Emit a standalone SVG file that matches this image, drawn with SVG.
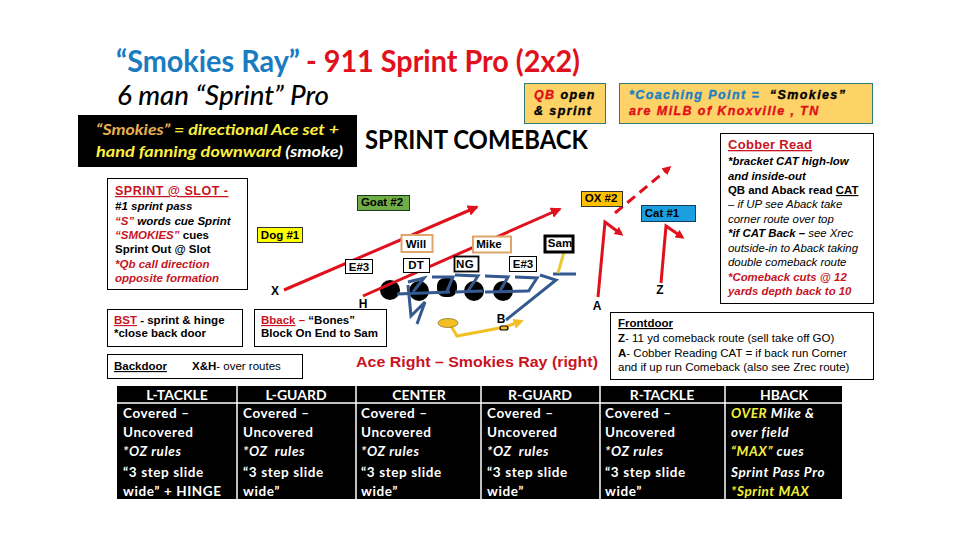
<svg xmlns="http://www.w3.org/2000/svg" width="960" height="540" viewBox="0 0 960 540">
<defs>
<marker id="ar" markerWidth="3.600" markerHeight="3.600" refX="5" refY="3" orient="auto" markerUnits="strokeWidth" viewBox="0 0 6 6"><path d="M0 0L6 3L0 6Z" fill="#e0101c"/></marker>
<marker id="ar2" markerWidth="3" markerHeight="3" refX="4" refY="3" orient="auto" markerUnits="strokeWidth" viewBox="0 0 6 6"><path d="M0 0L6 3L0 6Z" fill="#e0101c"/></marker>
<marker id="ay" markerWidth="3.500" markerHeight="3.500" refX="3" refY="3" orient="auto" markerUnits="strokeWidth" viewBox="0 0 6 6"><path d="M0 0L6 3L0 6Z" fill="#f4bf25"/></marker>
</defs>
<style>
text{font-family:"Liberation Sans",Arial,sans-serif;fill:#000;white-space:pre}
.c{font-family:Lato,"Open Sans","Liberation Sans",sans-serif}
.b{font-weight:700}.i{font-style:italic}.u{text-decoration:underline}
.r{fill:#c8151f}.rb{fill:#e00f1a}
.box{fill:#fff;stroke:#000;stroke-width:1}
.gold{fill:#fdd267;stroke:#2c7a7a;stroke-width:1}
.lb{font-size:12px;font-weight:700}
.nt{font-size:11.5px;font-weight:700;text-anchor:middle}
.s{font-size:11.5px}
.cb{font-size:11.4px}
.tb{font-size:13.5px;fill:#fff;font-weight:700;letter-spacing:.6px}
.th{font-size:14px;fill:#fff;font-weight:700;text-anchor:middle}
.rt{fill:none;stroke:#e0101c;stroke-width:3}
.bl{fill:none;stroke:#34598f;stroke-width:3}
.dot{fill:#000}
.gc{font-size:12.5px;font-weight:700;font-style:italic;letter-spacing:1.4px;stroke:currentColor;stroke-width:.35}
</style>
<rect width="960" height="540" fill="#fff"/>

<g id="title">
<text class="c b" x="116" y="72" font-size="30" style="fill:#1a7cc0" textLength="184" lengthAdjust="spacingAndGlyphs">“Smokies Ray”</text>
<text class="c b" x="306" y="72" font-size="30" style="fill:#e0101c" textLength="274" lengthAdjust="spacingAndGlyphs">- 911 Sprint Pro (2x2)</text>
<text class="c i" x="117" y="105" font-size="27" font-weight="500" textLength="212" lengthAdjust="spacingAndGlyphs">6 man “Sprint” Pro</text>
<text class="c b" x="365" y="149" font-size="26" textLength="223" lengthAdjust="spacingAndGlyphs">SPRINT COMEBACK</text>
</g>

<g id="smokies-note">
<rect x="78" y="115" width="279" height="52" fill="#000"/>
<text class="c b i" x="96" y="135" font-size="15" style="fill:#fdf040" textLength="243" lengthAdjust="spacingAndGlyphs"><tspan style="fill:#e8b050">“Smokies”</tspan> = directional Ace set +</text>
<text class="c b i" x="96" y="157" font-size="15" style="fill:#fdf040" textLength="247" lengthAdjust="spacingAndGlyphs">hand fanning downward <tspan style="fill:#fff">(smoke)</tspan></text>
</g>

<g id="qb-open">
<rect class="gold" x="524.500" y="83.500" width="81" height="40"/>
<text class="gc" x="534" y="99" color="#000"><tspan class="rb" color="#e00f1a">QB</tspan> open</text>
<text class="gc" x="534" y="115" color="#000">&amp; sprint</text>
</g>
<g id="coaching">
<rect class="gold" x="619.500" y="83.500" width="253" height="40"/>
<text class="gc" x="629" y="99" color="#1b7fc4" style="fill:#1b7fc4">*Coaching Point =  <tspan style="fill:#000" color="#000">“Smokies”</tspan></text>
<text class="gc rb" x="629" y="115" color="#e00f1a">are MiLB of Knoxville , TN</text>
</g>

<g id="cobber-read">
<rect class="box" x="720.500" y="133.500" width="153" height="170"/>
<text x="728" y="149" font-size="13" class="b u r" letter-spacing=".3">Cobber Read</text>
<text class="cb b i" x="728" y="165">*bracket CAT high-low</text>
<text class="cb b i" x="728" y="180">and inside-out</text>
<text class="cb b" x="728" y="194">QB and Aback read <tspan class="u">CAT</tspan></text>
<text class="cb i" x="728" y="208">– if UP see Aback take</text>
<text class="cb i" x="728" y="223">corner route over top</text>
<text class="cb" x="728" y="237"><tspan class="b i">*if CAT Back –</tspan><tspan class="i"> see Xrec</tspan></text>
<text class="cb i" x="728" y="252">outside-in to Aback taking</text>
<text class="cb i" x="728" y="266">double comeback route</text>
<text class="cb b i r" x="728" y="281">*Comeback cuts @ 12</text>
<text class="cb b i r" x="728" y="295">yards depth back to 10</text>
</g>

<g id="sprint-slot">
<rect class="box" x="107.500" y="178.500" width="140" height="111"/>
<text x="115" y="195" font-size="12.500" class="b u r" letter-spacing=".5">SPRINT @ SLOT -</text>
<text class="s b i" x="115" y="210">#1 sprint pass</text>
<text class="s b i" x="115" y="225"><tspan class="r">“S”</tspan> words cue Sprint</text>
<text class="s b" x="115" y="239"><tspan class="r i">“SMOKIES”</tspan> cues</text>
<text class="s b" x="115" y="253">Sprint Out @ Slot</text>
<text class="s b i r" x="115" y="268">*Qb call direction</text>
<text class="s b i r" x="115" y="282">opposite formation</text>
</g>
<g id="bst">
<rect class="box" x="107.500" y="309.500" width="135" height="37"/>
<text class="s b" x="114" y="324"><tspan class="r u">BST</tspan> - sprint &amp; hinge</text>
<text class="s b" x="114" y="337">*close back door</text>
</g>
<g id="bback">
<rect class="box" x="254.500" y="309.500" width="132" height="37"/>
<text class="s b" x="261" y="324"><tspan class="r u">Bback</tspan><tspan class="r"> –</tspan> “Bones”</text>
<text class="s b" x="261" y="337">Block On End to Sam</text>
</g>
<g id="backdoor">
<rect class="box" x="107.500" y="354.500" width="195" height="24"/>
<text class="s b u" x="114" y="370">Backdoor</text>
<text class="s" x="192" y="370"><tspan class="b">X&amp;H</tspan>- over routes</text>
</g>
<g id="frontdoor">
<rect class="box" x="610.500" y="312.500" width="263" height="67"/>
<text class="s b u" x="618" y="327">Frontdoor</text>
<text class="s" x="618" y="342"><tspan class="b">Z</tspan>- 11 yd comeback route (sell take off GO)</text>
<text class="s" x="618" y="357"><tspan class="b">A</tspan>- Cobber Reading CAT = if back run Corner</text>
<text class="s" x="618" y="371">and if up run Comeback (also see Zrec route)</text>
</g>
<text id="caption" x="356" y="367" font-size="14" class="r b" textLength="242" lengthAdjust="spacingAndGlyphs">Ace Right – Smokies Ray (right)</text>

<g id="ol-dots">
<circle class="dot" cx="390" cy="290" r="10"/>
<circle class="dot" cx="419" cy="291" r="10"/>
<rect class="dot" x="437" y="278" width="20" height="19" rx="8"/>
<circle class="dot" cx="474" cy="291" r="10"/>
<circle class="dot" cx="503" cy="291" r="10"/>
</g>

<g id="connectors">
<path class="rt" d="M284 290L477 207" marker-end="url(#ar)"/>
<path class="rt" d="M363 296L560 209" marker-end="url(#ar)"/>
<path class="rt" d="M598 297L605 222L621 234" marker-end="url(#ar2)"/>
<path class="rt" d="M615 213L669 168" stroke-dasharray="10 6" marker-end="url(#ar2)"/>
<path class="rt" d="M661 283L666 226L682 237" marker-end="url(#ar2)"/>
<path class="bl" d="M397 294L450 292"/>
<path class="bl" d="M408 282L424 278L413 292"/>
<path class="bl" d="M432 277L453 277L447 291"/>
<path class="bl" d="M455 292L483 291"/>
<path class="bl" d="M455 275L478 276L468 291"/>
<path class="bl" d="M485 276L508 277L500 291"/>
<path class="bl" d="M485 292L528 291"/>
<path class="bl" d="M515 277L537 278L528 292"/>
<path class="bl" d="M540 275L556 280L506 320"/>
<path class="bl" d="M553 274L576 274"/>
<path class="bl" d="M408 285L411 316L425 302L417 324"/>
<path d="M564 252L558 273" fill="none" stroke="#e8c838" stroke-width="3"/>
<path d="M451 326L457 336L505 327L519 322" fill="none" stroke="#f4bf25" stroke-width="3" marker-end="url(#ay)"/>
</g>

<g id="qb"><ellipse cx="448" cy="323" rx="10" ry="4.500" fill="#f4bf25" stroke="#8a7a30" stroke-width=".8"/></g>
<g id="b-back"><rect x="500" y="326" width="8" height="4" rx="2" fill="#f4bf25" stroke="#000" stroke-width="1.200"/><text class="lb" x="501" y="323" text-anchor="middle">B</text></g>
<g id="x"><text class="lb" x="275" y="295" text-anchor="middle">X</text></g>
<g id="h"><text class="lb" x="363" y="308" text-anchor="middle">H</text></g>
<g id="a"><text class="lb" x="597" y="310" text-anchor="middle">A</text></g>
<g id="z"><text class="lb" x="660" y="294" text-anchor="middle">Z</text></g>

<g id="goat"><rect x="357.500" y="195.500" width="52" height="15" fill="#70ad47" stroke="#1a3a1a"/><text class="nt" x="382" y="206">Goat #2</text></g>
<g id="dog"><rect x="257.500" y="227.500" width="45" height="15" fill="#ffff00" stroke="#333"/><text class="nt" x="280" y="239">Dog #1</text></g>
<g id="will"><rect x="401.500" y="235" width="31" height="17" fill="#fff" stroke="#e0a468" stroke-width="2"/><text class="nt" x="416" y="248">Will</text></g>
<g id="mike"><rect x="473" y="236.500" width="38" height="16" fill="#fff" stroke="#e0a468" stroke-width="2"/><text class="nt" x="489" y="248">Mike</text></g>
<g id="sam"><rect x="545" y="236" width="28" height="16" fill="#fff" stroke="#000" stroke-width="3"/><text class="nt" x="560" y="247">Sam</text></g>
<g id="e3-left"><rect x="345.500" y="259.500" width="27" height="14" fill="#fff" stroke="#000"/><text class="nt" x="359" y="271">E#3</text></g>
<g id="dt"><rect x="403.500" y="258.500" width="26" height="14" fill="#fff" stroke="#000"/><text class="nt" x="416" y="269">DT</text></g>
<g id="ng"><rect x="454.500" y="256.500" width="24" height="15" fill="#fff" stroke="#000" stroke-width="1.800"/><text class="nt" x="465" y="268" letter-spacing=".5">NG</text></g>
<g id="e3-right"><rect x="509.500" y="256.500" width="27" height="15" fill="#fff" stroke="#000"/><text class="nt" x="523" y="268">E#3</text></g>
<g id="ox"><rect x="581.500" y="191.500" width="41" height="15" fill="#ffc000" stroke="#333"/><text class="nt" x="601" y="202">OX #2</text></g>
<g id="cat"><rect x="641.500" y="205.500" width="54" height="16" fill="#1b9fe0" stroke="#1a3a5a"/><text class="nt" x="662" y="217">Cat #1</text></g>

<g id="table">
<rect x="117" y="386" width="725" height="113" fill="#000"/>
<path d="M117 403H842M237 386V499M356 386V499M481 386V499M600 386V499M725 386V499" stroke="#fff" stroke-width="1.500" fill="none"/>
</g>
<g id="l-tackle">
<text class="c th" x="177" y="400">L-TACKLE</text>
<text class="c tb" x="123" y="418">Covered –</text><text class="c tb" x="123" y="437">Uncovered</text><text class="c tb i" x="123" y="456">*OZ rules</text><text class="c tb" x="123" y="477">“3 step slide</text><text class="c tb" x="123" y="496">wide” + HINGE</text>
</g>
<g id="l-guard">
<text class="c th" x="296" y="400">L-GUARD</text>
<text class="c tb" x="243" y="418">Covered –</text><text class="c tb" x="243" y="437">Uncovered</text><text class="c tb i" x="243" y="456">*OZ  rules</text><text class="c tb" x="243" y="477">“3 step slide</text><text class="c tb" x="243" y="496">wide”</text>
</g>
<g id="center">
<text class="c th" x="419" y="400">CENTER</text>
<text class="c tb" x="361" y="418">Covered –</text><text class="c tb" x="361" y="437">Uncovered</text><text class="c tb i" x="361" y="456">*OZ rules</text><text class="c tb" x="361" y="477">“3 step slide</text><text class="c tb" x="361" y="496">wide”</text>
</g>
<g id="r-guard">
<text class="c th" x="540" y="400">R-GUARD</text>
<text class="c tb" x="487" y="418">Covered –</text><text class="c tb" x="487" y="437">Uncovered</text><text class="c tb i" x="487" y="456">*OZ  rules</text><text class="c tb" x="487" y="477">“3 step slide</text><text class="c tb" x="487" y="496">wide”</text>
</g>
<g id="r-tackle">
<text class="c th" x="662" y="400">R-TACKLE</text>
<text class="c tb" x="605" y="418">Covered –</text><text class="c tb" x="605" y="437">Uncovered</text><text class="c tb i" x="605" y="456">*OZ rules</text><text class="c tb" x="605" y="477">“3 step slide</text><text class="c tb" x="605" y="496">wide”</text>
</g>
<g id="hback">
<text class="c th" x="784" y="400">HBACK</text>
<text class="c tb i" x="731" y="418"><tspan style="fill:#f5f03c">OVER</tspan> Mike &amp;</text><text class="c tb i" x="731" y="437">over field</text><text class="c tb i" x="731" y="456"><tspan style="fill:#f5f03c">“MAX”</tspan> cues</text><text class="c tb i" x="731" y="477">Sprint Pass Pro</text><text class="c tb i" x="731" y="496" style="fill:#f5f03c">*Sprint MAX</text>
</g>
</svg>
